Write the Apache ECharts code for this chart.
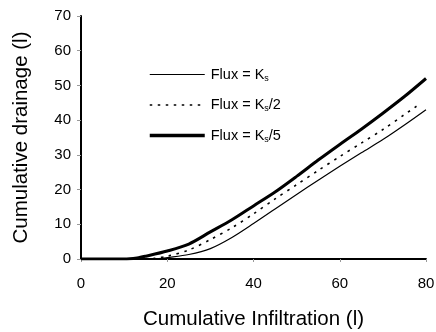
<!DOCTYPE html>
<html>
<head>
<meta charset="utf-8">
<script src="https://cdn.jsdelivr.net/npm/echarts@6/dist/echarts.min.js"></script>
<style>
html,body{margin:0;padding:0;background:#fff;}
#c{width:436px;height:332px;}
</style>
</head>
<body>
<div id="c"></div>
<script>
var xTicks = [0, 20, 40, 60, 80];
var yTicks = [0, 10, 20, 30, 40, 50, 60, 70];

var xKs = [0, 10, 15, 18, 20, 25, 30, 35, 40, 45, 50, 55, 60, 65, 70, 75, 80];
var yKs = [0, 0, 0, 0.1, 0.4, 1.3, 3.0, 6.2, 10.2, 14.4, 18.6, 22.7, 26.7, 30.6, 34.4, 38.6, 43.0];

var xKs2 = [0, 10, 15, 17, 20, 25, 30, 35, 40, 45, 50, 55, 60, 65, 70, 75, 77.8];
var yKs2 = [0, 0, 0, 0.2, 0.8, 2.6, 5.6, 9.0, 13.0, 17.3, 21.4, 25.5, 29.5, 33.4, 37.3, 41.6, 44.0];

var xKs5 = [0, 10, 13, 15, 20, 25, 30, 35, 40, 45, 50, 55, 60, 65, 70, 75, 80];
var yKs5 = [0, 0, 0.3, 0.8, 2.3, 4.3, 7.8, 11.3, 15.3, 19.3, 23.8, 28.5, 33.0, 37.4, 42.0, 46.8, 52.0];

function pairs(xs, ys) { return xs.map(function (x, i) { return [x, ys[i]]; }); }

var names = ['Flux = Ks', 'Flux = Ks/2', 'Flux = Ks/5'];
var legendText = {
  'Flux = Ks': '{a|Flux = K}{s|s}',
  'Flux = Ks/2': '{a|Flux = K}{s|s}{a|/2}',
  'Flux = Ks/5': '{a|Flux = K}{s|s}{a|/5}'
};

var chart = echarts.init(document.getElementById('c'), null, {renderer: 'canvas'});
var font = 'Liberation Sans, Arial, sans-serif';
chart.setOption({
  animation: false,
  backgroundColor: '#fff',
  grid: {left: 81, right: 10, top: 16, bottom: 73, containLabel: false, outerBoundsMode: 'none'},
  legend: {
    orient: 'vertical',
    left: 143,
    top: 62,
    itemWidth: 55,
    itemHeight: 16,
    itemGap: 14.5,
    data: [
      {name: names[0], lineStyle: {width: 1.2, type: 'solid', color: '#000'}},
      {name: names[1], lineStyle: {width: 1.6, type: [2.5, 5.5], color: '#000'}},
      {name: names[2], lineStyle: {width: 3.5, type: 'solid', color: '#000'}}
    ],
    itemStyle: {opacity: 0},
    formatter: function (n) { return legendText[n]; },
    textStyle: {
      fontFamily: font,
      padding: [0, 0, 0, 1],
      rich: {
        a: {fontSize: 14.5, fontFamily: font, color: '#000'},
        s: {fontSize: 9, fontFamily: font, color: '#000', verticalAlign: 'bottom', padding: [8, 0, 0, 0]}
      }
    }
  },
  xAxis: {
    type: 'value', min: xTicks[0], max: xTicks[xTicks.length - 1], interval: 20,
    name: 'Cumulative Infiltration (l)', nameLocation: 'middle', nameGap: 50,
    nameTextStyle: {fontSize: 20.5, fontFamily: font, color: '#000'},
    axisLine: {lineStyle: {color: '#000', width: 2}},
    axisTick: {show: true, length: 3, lineStyle: {color: '#999'}},
    axisLabel: {fontSize: 15, fontFamily: font, color: '#000', margin: 17},
    splitLine: {show: false}
  },
  yAxis: {
    type: 'value', min: yTicks[0], max: yTicks[yTicks.length - 1], interval: 10,
    name: 'Cumulative drainage (l)', nameLocation: 'middle', nameGap: 49,
    nameTextStyle: {fontSize: 20.5, fontFamily: font, color: '#000'},
    axisLine: {show: true, lineStyle: {color: '#000', width: 2}},
    axisTick: {show: true, length: 4, lineStyle: {color: '#999'}},
    axisLabel: {fontSize: 15, fontFamily: font, color: '#000', margin: 10},
    splitLine: {show: false}
  },
  series: [
    {name: names[0], type: 'line', data: pairs(xKs, yKs), symbol: 'none', smooth: 0.3,
      lineStyle: {color: '#000', width: 1.2, type: 'solid'}, itemStyle: {color: '#000'}},
    {name: names[1], type: 'line', data: pairs(xKs2, yKs2), symbol: 'none', smooth: 0.3,
      lineStyle: {color: '#000', width: 1.6, type: [2.5, 5.5]}, itemStyle: {color: '#000'}},
    {name: names[2], type: 'line', data: pairs(xKs5, yKs5), symbol: 'none', smooth: 0.3,
      lineStyle: {color: '#000', width: 3, type: 'solid'}, itemStyle: {color: '#000'}}
  ]
});
</script>
</body>
</html>
